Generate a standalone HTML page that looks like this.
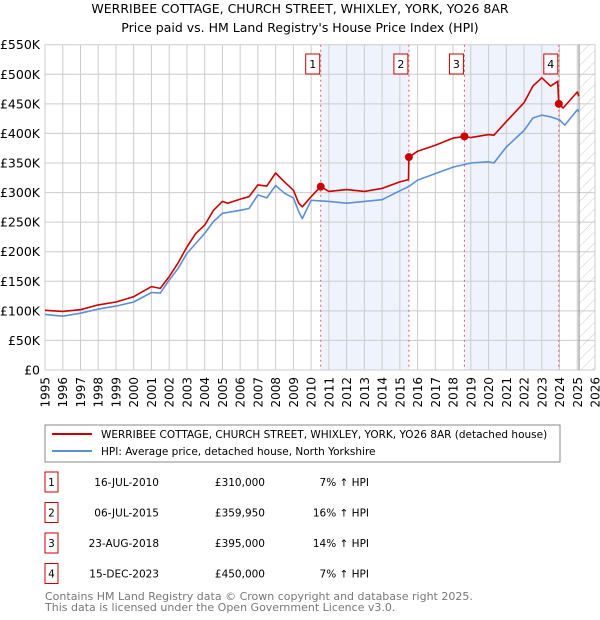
<!DOCTYPE html>
<html><head><meta charset="utf-8"><style>
body{margin:0;background:#fff;width:600px;height:620px;overflow:hidden;font-family:"DejaVu Sans","Liberation Sans",sans-serif;}
svg{position:absolute;left:0;top:0}
</style></head><body>
<svg id="chart" width="600" height="620" viewBox="0 0 600 620" font-family="DejaVu Sans, Liberation Sans, sans-serif">
<text x="300" y="13" text-anchor="middle" font-size="12.5" fill="#000">WERRIBEE COTTAGE, CHURCH STREET, WHIXLEY, YORK, YO26 8AR</text>
<text x="300" y="32" text-anchor="middle" font-size="12.5" fill="#000">Price paid vs. HM Land Registry's House Price Index (HPI)</text>
<g id="bg"></g><g id="grid"></g><g id="series"></g><g id="axes"></g>
<rect x="45" y="425" width="515" height="37" fill="#fff" stroke="#888" stroke-width="1"/>
<line x1="52" y1="434" x2="92" y2="434" stroke="#cc0000" stroke-width="2"/>
<text x="101" y="438" font-size="10.5">WERRIBEE COTTAGE, CHURCH STREET, WHIXLEY, YORK, YO26 8AR (detached house)</text>
<line x1="52" y1="451" x2="92" y2="451" stroke="#5b8fd6" stroke-width="2"/>
<text x="101" y="455" font-size="10.5">HPI: Average price, detached house, North Yorkshire</text>
<g id="table" font-size="10.5"></g>
<text x="45" y="600" font-size="11" fill="#777">Contains HM Land Registry data © Crown copyright and database right 2025.</text>
<text x="45" y="611" font-size="11" fill="#777">This data is licensed under the Open Government Licence v3.0.</text>
</svg>
<script>
const hpiYears=[1995,1996,1997,1998,1999,2000,2001,2001.5,2002,2002.5,2003,2004,2004.5,2005,2006,2006.5,2007,2007.5,2008,2008.5,2009,2009.3,2009.5,2010,2011,2012,2013,2014,2015,2015.5,2016,2017,2018,2019,2020,2020.3,2021,2022,2022.5,2023,2023.5,2024,2024.3,2025,2025.1];
const hpiValues=[94,91,96,103,108,115,131,130,152,172,197,231,251,265,270,273,296,291,312,299,291,268,256,287,285,282,285,288,303,310,321,332,343,350,352,350,377,405,426,431,428,423,414,440,437];
const propYears=[1995,1996,1997,1998,1999,2000,2001,2001.5,2002,2002.5,2003,2003.5,2004,2004.5,2005,2005.3,2006,2006.5,2007,2007.5,2008,2008.5,2009,2009.3,2009.5,2010,2010.54,2011,2012,2013,2014,2015,2015.49,2015.51,2016,2017,2018,2018.64,2019,2020,2020.3,2021,2022,2022.5,2023,2023.5,2023.9,2023.96,2024.2,2025,2025.1];
const propValues=[101,99,102,110,115,124,141,138,158,181,208,231,245,270,285,282,289,293,313,311,333,318,304,282,276,293,310,302,305,302,307,318,322,360,370,380,392,395,393,398,397,420,452,480,494,480,488,450,443,470,463];
const saleYears=[2010.54,2015.51,2018.64,2023.96];
const saleValues=[310,359.95,395,450];
const saleLabels=["1","2","3","4"];
const saleDates=["16-JUL-2010","06-JUL-2015","23-AUG-2018","15-DEC-2023"];
const salePrices=["£310,000","£359,950","£395,000","£450,000"];
const salePct=["7% ↑ HPI","16% ↑ HPI","14% ↑ HPI","7% ↑ HPI"];
const yTicks=[0,50,100,150,200,250,300,350,400,450,500,550];
const yTickLabels=["£0","£50K","£100K","£150K","£200K","£250K","£300K","£350K","£400K","£450K","£500K","£550K"];
const xTicks=[1995,1996,1997,1998,1999,2000,2001,2002,2003,2004,2005,2006,2007,2008,2009,2010,2011,2012,2013,2014,2015,2016,2017,2018,2019,2020,2021,2022,2023,2024,2025,2026];

const NS="http://www.w3.org/2000/svg";
const X0=45,X1=595,Y0=370,Y1=44.7;
const xs=y=>X0+(y-1995)/(2026-1995)*(X1-X0);
const ys=v=>Y0-v/550*(Y0-Y1);
function mk(tag,attrs,parent){const e=document.createElementNS(NS,tag);for(const k in attrs)e.setAttribute(k,attrs[k]);parent.appendChild(e);return e;}
const bg=document.getElementById('bg'),grid=document.getElementById('grid'),ser=document.getElementById('series'),ax=document.getElementById('axes'),tb=document.getElementById('table');

let r=mk('rect',{x:xs(saleYears[0]),y:Y1,width:xs(saleYears[1])-xs(saleYears[0]),height:Y0-Y1,fill:'#eef3fd'},bg);


r=mk('rect',{x:xs(saleYears[2]),y:Y1,width:xs(saleYears[3])-xs(saleYears[2]),height:Y0-Y1,fill:'#eef3fd'},bg);


const defs=mk('defs',{},bg);
const pat=mk('pattern',{id:'hatch',width:8,height:8,patternUnits:'userSpaceOnUse',patternTransform:'rotate(45)'},defs);
mk('line',{x1:0,y1:0,x2:0,y2:8,stroke:'#ccc','stroke-width':1},pat);
r=mk('rect',{x:xs(2025.1),y:Y1,width:X1-xs(2025.1),height:Y0-Y1,fill:'url(#hatch)'},bg);



yTicks.forEach((v,i)=>{
 const l=mk('line',{x1:X0,x2:X1,y1:ys(v),y2:ys(v),stroke:'#cccccc','stroke-width':1},grid);
 
 
 const t=mk('text',{x:40,y:ys(v)+4.5,'text-anchor':'end','font-size':12.5,fill:'#000'},ax);
 t.textContent=yTickLabels[i];
 
 
});
xTicks.forEach(y=>{
 const l=mk('line',{x1:xs(y),x2:xs(y),y1:Y1,y2:Y0,stroke:'#cccccc','stroke-width':1},grid);
 
 
 const t=mk('text',{x:0,y:0,'text-anchor':'end','font-size':12,transform:`translate(${xs(y)+4.5},377) rotate(-90)`},ax);
 t.textContent=String(y);
 
 
});
const vl=mk('line',{x1:xs(2025.1),x2:xs(2025.1),y1:Y1,y2:Y0,stroke:'#888','stroke-width':1},grid);



saleYears.forEach((y,i)=>{
 const l=mk('line',{x1:xs(y),x2:xs(y),y1:Y1,y2:Y0,stroke:'#e06060','stroke-width':1,'stroke-dasharray':'2,3'},ser);
 
 
 const bx=mk('rect',{x:xs(y)-15,y:54,width:14,height:20,fill:'#fff',stroke:'#cc0000','stroke-width':1},ser);
 
 
 const t=mk('text',{x:xs(y)-8,y:68,'text-anchor':'middle','font-size':11},ser);
 t.textContent=saleLabels[i];
 
 
});

const pts=(xa,va)=>xa.map((y,i)=>xs(y).toFixed(1)+','+ys(va[i]).toFixed(1)).join(' ');
let p=mk('polyline',{points:pts(hpiYears,hpiValues),fill:'none',stroke:'#5b8fd6','stroke-width':1.6,'stroke-linejoin':'round'},ser);


p=mk('polyline',{points:pts(propYears,propValues),fill:'none',stroke:'#cc0000','stroke-width':1.6,'stroke-linejoin':'round'},ser);


saleYears.forEach((y,i)=>{
 const c=mk('circle',{cx:xs(y),cy:ys(saleValues[i]),r:4,fill:'#cc0000'},ser);
 
 
});

saleLabels.forEach((lab,i)=>{
 const cy=482+i*30.5;
 const b=mk('rect',{x:45,y:cy-10,width:13,height:20,fill:'#fff',stroke:'#cc0000','stroke-width':1},tb);
 
 
 let t=mk('text',{x:51.5,y:cy+4,'text-anchor':'middle'},tb);t.textContent=lab;
 
 
 t=mk('text',{x:159,y:cy+4,'text-anchor':'end'},tb);t.textContent=saleDates[i];
 
 
 t=mk('text',{x:265,y:cy+4,'text-anchor':'end'},tb);t.textContent=salePrices[i];
 
 
 t=mk('text',{x:369,y:cy+4,'text-anchor':'end'},tb);t.textContent=salePct[i];
 
 
});
</script>
</body></html>
